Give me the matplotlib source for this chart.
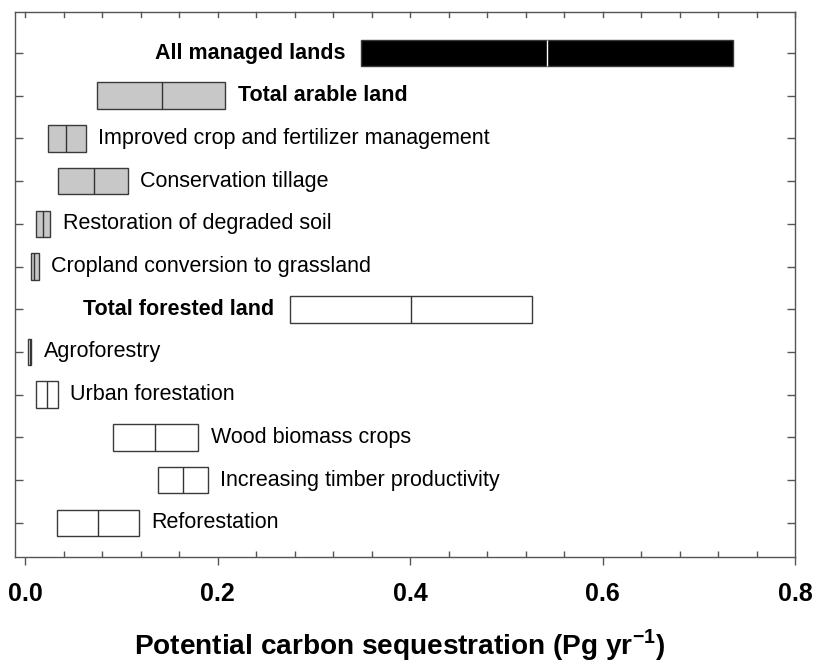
import numpy as np
import matplotlib
matplotlib.use("Agg")
import matplotlib.pyplot as plt
from matplotlib.ticker import MultipleLocator

plt.rcParams['font.family'] = ['Liberation Sans', 'DejaVu Sans']
plt.rcParams['mathtext.fontset'] = 'custom'
plt.rcParams['mathtext.rm'] = 'Liberation Sans'
plt.rcParams['mathtext.bf'] = 'Liberation Sans:bold'

# practices, top to bottom
labels = ["All managed lands", "Total arable land",
          "Improved crop and fertilizer management", "Conservation tillage",
          "Restoration of degraded soil", "Cropland conversion to grassland",
          "Total forested land", "Agroforestry", "Urban forestation",
          "Wood biomass crops", "Increasing timber productivity", "Reforestation"]
low = [0.349, 0.075, 0.024, 0.034, 0.011, 0.006, 0.275, 0.0035, 0.011, 0.091, 0.138, 0.033]
mid = [0.542, 0.142, 0.043, 0.0715, 0.0186, 0.0097, 0.401, 0.005, 0.0228, 0.135, 0.164, 0.0755]
high = [0.736, 0.208, 0.063, 0.107, 0.026, 0.0145, 0.527, 0.0062, 0.034, 0.180, 0.190, 0.118]
group = ["all", "arable", "arable", "arable", "arable", "arable",
         "forest", "forest", "forest", "forest", "forest", "forest"]
bold = [True, True, False, False, False, False, True, False, False, False, False, False]
label_left = [True, False, False, False, False, False, True, False, False, False, False, False]

fill = {"all": "black", "arable": "#c8c8c8", "forest": "white"}
medcol = {"all": "white", "arable": "#333333", "forest": "#333333"}
edge = "#3a3a3a"
h = 0.62

fig = plt.figure(figsize=(8.15, 6.62), dpi=100)
ax = fig.add_axes([15 / 815, 1 - 557 / 662, 780 / 815, 545 / 662])

ys = np.arange(1, len(labels) + 1)
for i, y in enumerate(ys):
    g = group[i]
    ax.barh(y, high[i] - low[i], left=low[i], height=h, color=fill[g],
            edgecolor=edge, linewidth=1.0, zorder=2)
    ax.vlines(mid[i], y - h / 2, y + h / 2, color=medcol[g], linewidth=1.0, zorder=3)
    w = 'bold' if bold[i] else 'normal'
    if label_left[i]:
        ax.annotate(labels[i], (low[i], y), xytext=(-11, 0), textcoords='offset points',
                    ha='right', va='center', fontsize=15.5, fontweight=w)
    else:
        ax.annotate(labels[i], (high[i], y), xytext=(9, 0), textcoords='offset points',
                    ha='left', va='center', fontsize=15.5, fontweight=w)

ax.set_xlim(-0.0104, 0.8)
ax.set_ylim(12.8, 0.04)
ax.set_yticks(ys)
ax.set_yticklabels([])
ax.xaxis.set_minor_locator(MultipleLocator(0.04))
ax.set_xticks([0.0, 0.2, 0.4, 0.6, 0.8])
ax.set_xticklabels(["0.0", "0.2", "0.4", "0.6", "0.8"], fontsize=18, fontweight='bold')

for s in ax.spines.values():
    s.set_color("#555555")
    s.set_linewidth(1.0)

ax.tick_params(axis='x', which='major', direction='out', length=6, color="#555555",
               width=1, pad=12, top=False)
ax.tick_params(axis='x', which='minor', direction='in', length=4, color="#555555",
               width=1, top=False)
ax.tick_params(axis='y', which='both', direction='in', length=6, color="#555555",
               width=1, left=True, right=True)

# inward ticks along the top spine
for xv in np.arange(0.0, 0.8001, 0.04):
    ax.plot([xv, xv], [0.04, 0.15], color="#555555", linewidth=1, clip_on=False, zorder=1)

fig.text(400 / 815, 1 - 645 / 662, "Potential carbon sequestration (Pg yr$^{\\mathbf{-1}}$)",
         fontsize=20.2, fontweight='bold', ha='center', va='center')

fig.savefig("out.png", dpi=100)
